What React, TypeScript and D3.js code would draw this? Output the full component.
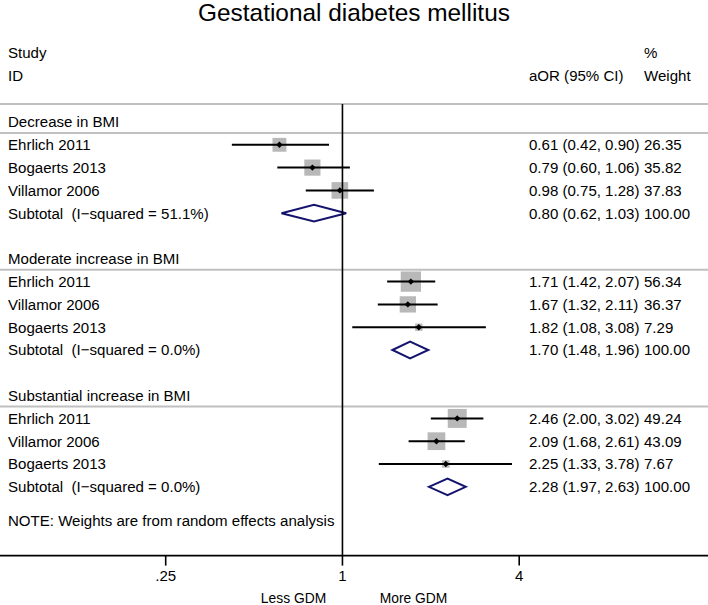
import React from "react";
import * as d3 from "d3";

const groups = ["Decrease in BMI", "Moderate increase in BMI", "Substantial increase in BMI"];
const studyGroup = [0, 0, 0, 1, 1, 1, 2, 2, 2];
const studyNames = ["Ehrlich 2011", "Bogaerts 2013", "Villamor 2006", "Ehrlich 2011", "Villamor 2006", "Bogaerts 2013", "Ehrlich 2011", "Villamor 2006", "Bogaerts 2013"];
const studyOR = [0.61, 0.79, 0.98, 1.71, 1.67, 1.82, 2.46, 2.09, 2.25];
const studyLo = [0.42, 0.60, 0.75, 1.42, 1.32, 1.08, 2.00, 1.68, 1.33];
const studyHi = [0.90, 1.06, 1.28, 2.07, 2.11, 3.08, 3.02, 2.61, 3.78];
const studyWeight = ["26.35", "35.82", "37.83", "56.34", "36.37", "7.29", "49.24", "43.09", "7.67"];
const subOR = [0.80, 1.70, 2.28];
const subLo = [0.62, 1.48, 1.97];
const subHi = [1.03, 1.96, 2.63];
const subI2 = ["51.1%", "0.0%", "0.0%"];
const tickValues = [0.25, 1, 4];
const tickLabels = [".25", "1", "4"];

const W = 708;
const H = 605;
const FONT = "'Liberation Sans', Arial, Helvetica, sans-serif";
const FS = 15.05;

const fmt = (v: number) => v.toFixed(2);

export default function App() {
  const x = d3.scaleLog().base(2).domain([0.25, 4]).range([165.7, 519.2]);
  const row = d3.scaleLinear().domain([0, 17.5]).range([122, 521]);
  const colLabel = 8;
  const colCI = 529;
  const colW = 644;
  const axisY = 555.6;
  const topLine = 104;
  const boxK = 2.7;

  const elems: React.ReactNode[] = [];
  const txt = (key: string, xx: number, yy: number, s: string, extra: any = {}) => (
    <text key={key} x={xx} y={yy + 5.3} fontFamily={FONT} fontSize={FS} fill="#000" {...extra}>{s}</text>
  );

  groups.forEach((g, gi) => {
    const base = gi * 6;
    const hy = row(base);
    elems.push(txt(`g${gi}`, colLabel, hy, g));
    elems.push(<line key={`gl${gi}`} x1={0} x2={W} y1={hy + 11} y2={hy + 11} stroke="#c0c0c0" strokeWidth={2} />);
    const idx = studyGroup.map((sg, i) => (sg === gi ? i : -1)).filter((i) => i >= 0);
    idx.forEach((si, k) => {
      const y = row(base + 1 + k);
      const side = boxK * Math.sqrt(parseFloat(studyWeight[si]));
      const cx = x(studyOR[si]);
      elems.push(txt(`n${si}`, colLabel, y, studyNames[si]));
      elems.push(<rect key={`b${si}`} x={cx - side / 2} y={y - side / 2} width={side} height={side} fill="#b8b8b8" />);
      elems.push(<line key={`ci${si}`} x1={x(studyLo[si])} x2={x(studyHi[si])} y1={y} y2={y} stroke="#000" strokeWidth={2} />);
      const d = 3.2;
      elems.push(<path key={`p${si}`} d={`M${cx - d},${y}L${cx},${y - d}L${cx + d},${y}L${cx},${y + d}Z`} fill="#000" />);
      elems.push(txt(`c${si}`, colCI, y, `${fmt(studyOR[si])} (${fmt(studyLo[si])}, ${fmt(studyHi[si])})`));
      elems.push(txt(`w${si}`, colW, y, studyWeight[si]));
    });
    const sy = row(base + 4);
    const hh = 8.3;
    elems.push(txt(`s${gi}`, colLabel, sy, `Subtotal  (I\u2212squared = ${subI2[gi]})`, { style: { whiteSpace: "pre" } }));
    elems.push(
      <path key={`d${gi}`} d={`M${x(subLo[gi])},${sy}L${x(subOR[gi])},${sy - hh}L${x(subHi[gi])},${sy}L${x(subOR[gi])},${sy + hh}Z`} fill="none" stroke="#14146e" strokeWidth={2} strokeLinejoin="miter" />
    );
    elems.push(txt(`sc${gi}`, colCI, sy, `${fmt(subOR[gi])} (${fmt(subLo[gi])}, ${fmt(subHi[gi])})`));
    elems.push(txt(`sw${gi}`, colW, sy, "100.00"));
  });

  return (
    <svg width={W} height={H} style={{ position: "absolute", left: 0, top: 0, background: "#fff" }}>
      <rect x={0} y={0} width={W} height={H} fill="#fff" />
      <text x={354} y={21} textAnchor="middle" fontFamily={FONT} fontSize={24.4} fill="#000">Gestational diabetes mellitus</text>
      {txt("study", colLabel, 53, "Study")}
      {txt("id", colLabel, 76, "ID")}
      {txt("pct", colW, 53, "%")}
      {txt("aor", colCI, 76, "aOR (95% CI)")}
      {txt("wt", colW, 76, "Weight")}
      <line x1={0} x2={W} y1={topLine} y2={topLine} stroke="#c0c0c0" strokeWidth={2} />
      {elems}
      <line x1={x(1)} x2={x(1)} y1={topLine} y2={axisY} stroke="#000" strokeWidth={1.6} />
      {txt("note", colLabel, row(17.5), "NOTE: Weights are from random effects analysis")}
      <line x1={0} x2={W} y1={axisY} y2={axisY} stroke="#000" strokeWidth={1.6} />
      {tickValues.map((v, i) => (
        <g key={`t${i}`}>
          <line x1={x(v)} x2={x(v)} y1={axisY} y2={axisY + 10} stroke="#000" strokeWidth={1.6} />
          <text x={x(v)} y={580.5} textAnchor="middle" fontFamily={FONT} fontSize={FS} fill="#000">{tickLabels[i]}</text>
        </g>
      ))}
      <text x={293.5} y={603} textAnchor="middle" fontFamily={FONT} fontSize={FS * 0.92} fill="#000">Less GDM</text>
      <text x={413.5} y={603} textAnchor="middle" fontFamily={FONT} fontSize={FS * 0.92} fill="#000">More GDM</text>
    </svg>
  );
}
